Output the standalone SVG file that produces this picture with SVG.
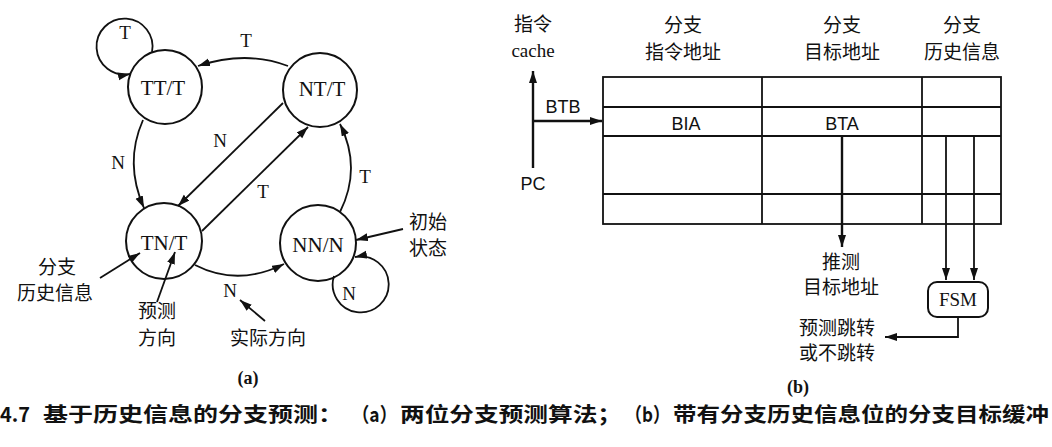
<svg xmlns="http://www.w3.org/2000/svg" width="1052" height="447" viewBox="0 0 1052 447">
<style>
.bg{fill:#fff}
.node{fill:#fff;stroke:#111;stroke-width:2}
.edge{fill:none;stroke:#111;stroke-width:1.8}
.thick{fill:none;stroke:#111;stroke-width:2.4}
.tbl{fill:none;stroke:#111;stroke-width:1.8}
.lbl{font-family:"Liberation Serif","Noto Sans CJK SC",serif;font-size:21px;fill:#111;text-anchor:middle}
.sm{font-family:"Liberation Serif",serif;font-size:19px;fill:#111;text-anchor:middle}
.ss{font-family:"Liberation Sans",sans-serif;font-size:18px;fill:#111;text-anchor:middle}
.cjk{font-family:"Noto Sans CJK SC",sans-serif;font-size:19px;fill:#111;text-anchor:middle}
.bold{font-family:"Liberation Serif",serif;font-size:18px;font-weight:bold;fill:#111;text-anchor:middle}
.cap{font-family:"Noto Sans CJK SC",sans-serif;font-size:20px;font-weight:bold;fill:#111}
</style>
<defs>
<marker id="ah" markerUnits="userSpaceOnUse" markerWidth="13" markerHeight="9" refX="12" refY="4" orient="auto">
<path d="M0,0 L12,4 L0,8 z" fill="#111"/>
</marker>
</defs>
<rect class="bg" width="1052" height="447"/>

<g id="TT">
<circle class="node" cx="165" cy="87" r="37"/>
<text class="lbl" x="163" y="95">TT/T</text>
</g>
<g id="NT">
<circle class="node" cx="320" cy="90" r="37"/>
<text class="lbl" x="322" y="96">NT/T</text>
</g>
<g id="TN">
<circle class="node" cx="164" cy="241" r="38"/>
<text class="lbl" x="164" y="250">TN/T</text>
</g>
<g id="NN">
<circle class="node" cx="318" cy="243" r="38"/>
<text class="lbl" x="318" y="252">NN/N</text>
</g>

<g id="edge-labels">
<text class="sm" x="125" y="39">T</text>
<text class="sm" x="246" y="47">T</text>
<text class="sm" x="118" y="169">N</text>
<text class="sm" x="220" y="147">N</text>
<text class="sm" x="263" y="198">T</text>
<text class="sm" x="365" y="183">T</text>
<text class="sm" x="230" y="297">N</text>
<text class="sm" x="349" y="300">N</text>
</g>

<g id="annotations-a">
<text class="cjk" x="57" y="274">分支</text>
<text class="cjk" x="55" y="300">历史信息</text>
<text class="cjk" x="157" y="318">预测</text>
<text class="cjk" x="157" y="345">方向</text>
<text class="cjk" x="268" y="345">实际方向</text>
<text class="cjk" x="428" y="229">初始</text>
<text class="cjk" x="428" y="255">状态</text>
<text class="bold" x="248" y="384">(a)</text>
</g>

<g id="btb-table">
<rect class="tbl" x="603" y="77" width="398" height="147"/>
<line class="tbl" x1="603" y1="107" x2="1001" y2="107"/>
<line class="tbl" x1="603" y1="136" x2="1001" y2="136"/>
<line class="tbl" x1="603" y1="194" x2="1001" y2="194"/>
<line class="tbl" x1="762" y1="77" x2="762" y2="224"/>
<line class="tbl" x1="922" y1="77" x2="922" y2="224"/>
<text class="ss" x="686" y="130">BIA</text>
<text class="ss" x="842" y="130">BTA</text>
</g>

<g id="headers-b">
<text class="cjk" x="533" y="31">指令</text>
<text class="sm" x="533" y="57">cache</text>
<text class="cjk" x="683" y="32">分支</text>
<text class="cjk" x="683" y="59">指令地址</text>
<text class="cjk" x="842" y="32">分支</text>
<text class="cjk" x="842" y="59">目标地址</text>
<text class="cjk" x="962" y="32">分支</text>
<text class="cjk" x="962" y="59">历史信息</text>
<text class="ss" x="563" y="113">BTB</text>
<text class="ss" x="533" y="190">PC</text>
</g>

<g id="FSM">
<rect class="node" x="928" y="282" width="60" height="35" rx="9"/>
<text class="sm" x="958" y="306">FSM</text>
</g>

<g id="annotations-b">
<text class="cjk" x="841" y="269">推测</text>
<text class="cjk" x="841" y="294">目标地址</text>
<text class="cjk" x="837" y="335">预测跳转</text>
<text class="cjk" x="837" y="360">或不跳转</text>
<text class="bold" x="798" y="393">(b)</text>
</g>

<g id="connectors">
<path class="edge" d="M 152 52 A 28 28 0 1 0 130 74" marker-end="url(#ah)"/>
<path class="edge" d="M 288 66 Q 246 50 198 66" marker-end="url(#ah)"/>
<path class="edge" d="M 143 120 Q 124 163 144 208" marker-end="url(#ah)"/>
<path class="edge" d="M 283 103 L 178 206" marker-end="url(#ah)"/>
<path class="edge" d="M 202 231 L 308 127" marker-end="url(#ah)"/>
<path class="edge" d="M 340 212 Q 362 168 340 124" marker-end="url(#ah)"/>
<path class="edge" d="M 195 265 Q 238 287 284 264" marker-end="url(#ah)"/>
<path class="edge" d="M 334 276 A 28 28 0 1 0 355 257" marker-end="url(#ah)"/>
<path class="edge" d="M 403 229 L 356 240" marker-end="url(#ah)"/>
<path class="edge" d="M 100 278 L 140 253" marker-end="url(#ah)"/>
<path class="edge" d="M 157 302 L 175 252" marker-end="url(#ah)"/>
<path class="edge" d="M 265 321 L 240 300" marker-end="url(#ah)"/>
<path class="thick" d="M 533 168 L 533 71" marker-end="url(#ah)"/>
<path class="thick" d="M 533 121 L 602 121" marker-end="url(#ah)"/>
<path class="thick" d="M 842 136 L 842 247" marker-end="url(#ah)"/>
<path class="edge" d="M 946 136 L 946 280" marker-end="url(#ah)"/>
<path class="edge" d="M 974 136 L 974 280" marker-end="url(#ah)"/>
<path class="edge" d="M 958 317 L 958 337 L 885 337" marker-end="url(#ah)"/>
</g>

<g id="caption">
<text class="cap" x="0" y="422" font-family="Liberation Serif" textLength="30" lengthAdjust="spacingAndGlyphs">4.7</text>
<text class="cap" x="43" y="422" textLength="300" lengthAdjust="spacingAndGlyphs">基于历史信息的分支预测：</text>
<text class="cap" x="352" y="422" textLength="45" lengthAdjust="spacingAndGlyphs">（a）</text>
<text class="cap" x="400" y="422" textLength="222" lengthAdjust="spacingAndGlyphs">两位分支预测算法；</text>
<text class="cap" x="625" y="422" textLength="45" lengthAdjust="spacingAndGlyphs">（b）</text>
<text class="cap" x="673" y="422" textLength="376" lengthAdjust="spacingAndGlyphs">带有分支历史信息位的分支目标缓冲</text>
</g>
</svg>
